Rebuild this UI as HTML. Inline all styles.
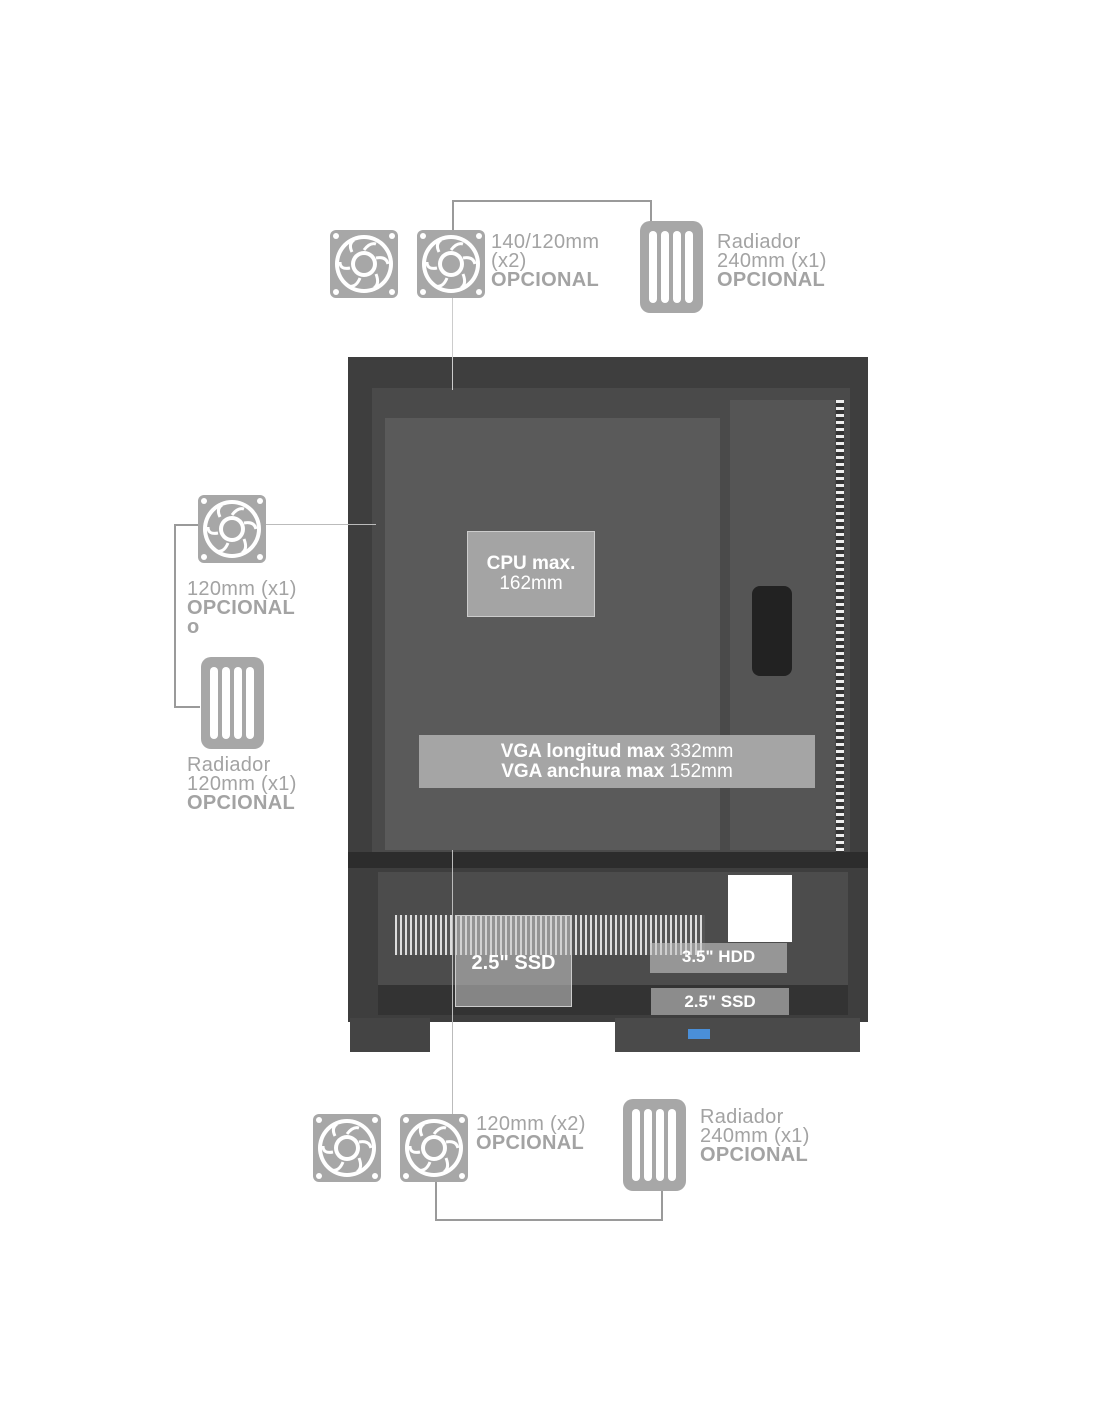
<!DOCTYPE html>
<html><head><style>
body{margin:0;width:1100px;height:1422px;background:#fff;position:relative;overflow:hidden;font-family:"Liberation Sans",sans-serif}
.a{position:absolute}
.lbl{position:absolute;color:#a3a3a3;font-size:20px;line-height:19px;letter-spacing:0.3px}
.lbl b{font-weight:bold}
.ln{position:absolute;background:#9a9a9a}
</style></head><body>
<svg width="0" height="0" style="position:absolute"><defs>
<g id="fan"><rect x="0" y="0" width="68" height="68" rx="6" fill="#a7a7a7"/>
<circle cx="6" cy="6" r="3" fill="#fff"/><circle cx="62" cy="6" r="3" fill="#fff"/><circle cx="6" cy="62" r="3" fill="#fff"/><circle cx="62" cy="62" r="3" fill="#fff"/>
<circle cx="34" cy="34" r="29" fill="#fff"/><circle cx="34" cy="34" r="25" fill="#a7a7a7"/>
<g stroke="#fff" stroke-width="3" fill="none"><path d="M34 20 Q40 12 46 14"/><path d="M46 28 Q56 26 58 34"/><path d="M46 44 Q50 54 44 58"/><path d="M30 48 Q26 58 18 56"/><path d="M20 38 Q10 40 10 32"/><path d="M22 22 Q18 14 24 10"/></g>
<circle cx="34" cy="34" r="13" fill="#fff"/><circle cx="34" cy="34" r="9" fill="#a7a7a7"/></g>
<g id="rad"><rect x="0" y="0" width="63" height="92" rx="10" fill="#a7a7a7"/>
<g fill="#fff"><rect x="9" y="10" width="8" height="72" rx="4"/><rect x="21" y="10" width="8" height="72" rx="4"/><rect x="33" y="10" width="8" height="72" rx="4"/><rect x="45" y="10" width="8" height="72" rx="4"/></g></g>
</defs></svg>

<!-- case -->
<div class="a" style="left:348px;top:357px;width:520px;height:665px;background:#3e3e3e"></div>
<div class="a" style="left:372px;top:388px;width:478px;height:466px;background:#4a4a4a"></div>
<div class="a" style="left:385px;top:418px;width:335px;height:432px;background:#5a5a5a"></div>
<div class="a" style="left:730px;top:400px;width:105px;height:450px;background:#555"></div>
<div class="a" style="left:836px;top:400px;width:8px;height:455px;background:repeating-linear-gradient(#eee 0 3px,#333 3px 7px)"></div>
<div class="a" style="left:752px;top:586px;width:40px;height:90px;background:#222;border-radius:8px"></div>
<div class="a" style="left:348px;top:852px;width:520px;height:16px;background:#2c2c2c"></div>
<div class="a" style="left:378px;top:872px;width:470px;height:126px;background:#4c4c4c"></div>
<div class="a" style="left:395px;top:915px;width:310px;height:40px;background:repeating-linear-gradient(90deg,#ddd 0 2px,#555 2px 5px)"></div>
<div class="a" style="left:728px;top:875px;width:64px;height:67px;background:#fff"></div>
<div class="a" style="left:378px;top:985px;width:470px;height:30px;background:#333"></div>
<div class="a" style="left:350px;top:1018px;width:80px;height:34px;background:#444"></div>
<div class="a" style="left:615px;top:1018px;width:245px;height:34px;background:#4a4a4a"></div>
<div class="a" style="left:688px;top:1029px;width:22px;height:10px;background:#4a8fd8"></div>

<!-- overlay boxes -->
<div class="a" style="left:467px;top:531px;width:128px;height:86px;background:rgba(190,190,190,0.75);border:1px solid #ccc;color:#fff;text-align:center;font-size:19px;line-height:20px;padding-top:22px;box-sizing:border-box"><b>CPU max.</b><br>162mm</div>
<div class="a" style="left:419px;top:735px;width:396px;height:53px;background:#a5a5a5;color:#fff;text-align:center;font-size:19px;line-height:20px;padding-top:7px;box-sizing:border-box"><b>VGA longitud max</b> 332mm<br><b>VGA anchura max</b> 152mm</div>
<div class="a" style="left:455px;top:915px;width:117px;height:92px;background:rgba(200,200,200,0.55);border:1px solid #ccc;color:#fff;font-size:20px;font-weight:bold;text-align:center;padding-top:36px;box-sizing:border-box">2.5" SSD</div>
<div class="a" style="left:650px;top:943px;width:137px;height:30px;background:rgba(200,200,200,0.6);color:#fff;font-size:17px;font-weight:bold;text-align:center;line-height:28px">3.5" HDD</div>
<div class="a" style="left:651px;top:988px;width:138px;height:27px;background:rgba(200,200,200,0.6);color:#fff;font-size:17px;font-weight:bold;text-align:center;line-height:27px">2.5" SSD</div>

<!-- lines -->
<div class="ln" style="left:452px;top:200px;width:2px;height:30px"></div>
<div class="ln" style="left:452px;top:200px;width:200px;height:2px"></div>
<div class="ln" style="left:650px;top:200px;width:2px;height:22px"></div>
<div class="ln" style="left:452px;top:298px;width:1px;height:92px;background:#ccc"></div>
<div class="ln" style="left:174px;top:524px;width:24px;height:2px"></div>
<div class="ln" style="left:266px;top:524px;width:110px;height:1px;background:#bbb"></div>
<div class="ln" style="left:174px;top:524px;width:2px;height:184px"></div>
<div class="ln" style="left:174px;top:706px;width:26px;height:2px"></div>
<div class="ln" style="left:452px;top:850px;width:1px;height:264px;background:#bbb"></div>
<div class="ln" style="left:435px;top:1182px;width:2px;height:39px"></div>
<div class="ln" style="left:435px;top:1219px;width:228px;height:2px"></div>
<div class="ln" style="left:661px;top:1190px;width:2px;height:31px"></div>

<!-- icons -->
<svg class="a" style="left:0;top:0" width="1100" height="1422">
<use href="#fan" x="330" y="230"/><use href="#fan" x="417" y="230"/><use href="#rad" x="640" y="221"/>
<use href="#fan" x="198" y="495"/><use href="#rad" x="201" y="657"/>
<use href="#fan" x="313" y="1114"/><use href="#fan" x="400" y="1114"/><use href="#rad" x="623" y="1099"/>
</svg>

<div class="lbl" style="left:491px;top:233px">140/120mm<br>(x2)<br><b>OPCIONAL</b></div>
<div class="lbl" style="left:717px;top:233px">Radiador<br>240mm (x1)<br><b>OPCIONAL</b></div>
<div class="lbl" style="left:187px;top:580px">120mm (x1)<br><b>OPCIONAL</b><br><b>o</b></div>
<div class="lbl" style="left:187px;top:756px">Radiador<br>120mm (x1)<br><b>OPCIONAL</b></div>
<div class="lbl" style="left:476px;top:1115px">120mm (x2)<br><b>OPCIONAL</b></div>
<div class="lbl" style="left:700px;top:1108px">Radiador<br>240mm (x1)<br><b>OPCIONAL</b></div>
</body></html>
